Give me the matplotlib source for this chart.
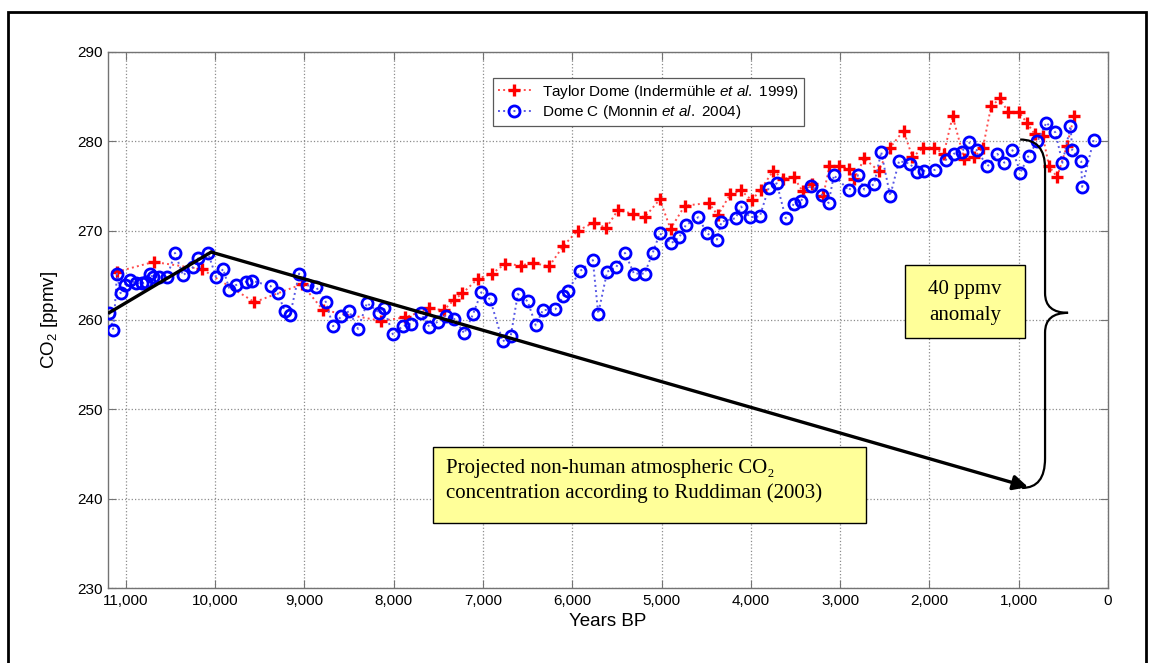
import numpy as np
import matplotlib
matplotlib.use('Agg')
import matplotlib.pyplot as plt
from matplotlib.patches import Rectangle, PathPatch
from matplotlib.path import Path

plt.rcParams['font.family'] = ['Liberation Sans', 'DejaVu Sans']
plt.rcParams['mathtext.fontset'] = 'custom'
plt.rcParams['mathtext.rm'] = 'Liberation Sans'
plt.rcParams['mathtext.it'] = 'Liberation Sans:italic'

# Dome C (Monnin et al. 2004)
domec_age = [11190, 11140, 11100, 11060, 11010, 10950, 10890, 10820, 10770, 10730,
             10700, 10630, 10540, 10450, 10360, 10250, 10190, 10080, 9990, 9910,
             9840, 9770, 9650, 9590, 9380, 9300, 9220, 9160, 9060, 8970,
             8870, 8760, 8680, 8590, 8500, 8400, 8300, 8160, 8110, 8010,
             7900, 7810, 7700, 7600, 7510, 7420, 7320, 7210, 7110, 7020,
             6920, 6780, 6690, 6610, 6500, 6410, 6330, 6190, 6100, 6050,
             5910, 5770, 5710, 5610, 5510, 5410, 5310, 5190, 5100, 5020,
             4890, 4800, 4730, 4590, 4490, 4380, 4330, 4170, 4110, 4010,
             3900, 3800, 3710, 3610, 3520, 3440, 3330, 3200, 3130, 3070,
             2900, 2800, 2730, 2620, 2540, 2440, 2340, 2220, 2140, 2060,
             1940, 1820, 1730, 1640, 1560, 1470, 1350, 1240, 1160, 1070,
             980, 890, 790, 690, 590, 510, 420, 400, 300, 290, 160]
domec_co2 = [260.8, 258.9, 265.2, 263.0, 263.9, 264.5, 264.1, 264.1, 264.3, 265.2,
             264.8, 264.8, 264.8, 267.5, 265.0, 265.9, 266.9, 267.5, 264.8, 265.7,
             263.4, 263.9, 264.3, 264.4, 263.8, 263.0, 261.0, 260.6, 265.2, 263.9,
             263.7, 262.0, 259.3, 260.4, 261.0, 259.0, 261.9, 260.8, 261.3, 258.4,
             259.3, 259.6, 260.8, 259.2, 259.8, 260.5, 260.1, 258.5, 260.7, 263.1,
             262.3, 257.6, 258.2, 262.9, 262.1, 259.4, 261.1, 261.2, 262.7, 263.3,
             265.5, 266.7, 260.7, 265.4, 265.9, 267.5, 265.2, 265.2, 267.5, 269.7,
             268.6, 269.3, 270.6, 271.5, 269.7, 269.0, 271.0, 271.4, 272.7, 271.5,
             271.6, 274.8, 275.3, 271.4, 273.0, 273.3, 275.0, 274.0, 273.1, 276.2,
             274.5, 276.2, 274.6, 275.2, 278.8, 273.9, 277.8, 277.5, 276.6, 276.7,
             276.8, 277.9, 278.6, 278.8, 279.9, 279.0, 277.2, 278.6, 277.6, 279.0,
             276.5, 278.4, 280.0, 282.1, 281.0, 277.6, 281.7, 279.0, 277.8, 274.9, 280.2]

# Taylor Dome (Indermühle et al. 1999)
taylor_age = [11100, 10690, 10150, 9560, 9030, 8790, 8140, 7870, 7600, 7440,
              7330, 7230, 7060, 6900, 6750, 6580, 6440, 6260, 6100, 5940,
              5760, 5620, 5490, 5320, 5190, 5020, 4900, 4740, 4470, 4370,
              4230, 4110, 3990, 3890, 3750, 3640, 3520, 3420, 3310, 3190,
              3120, 3010, 2900, 2840, 2730, 2570, 2440, 2290, 2190, 2070,
              1950, 1840, 1740, 1610, 1500, 1400, 1310, 1210, 1120, 1000,
              910, 820, 730, 660, 570, 460, 380]
taylor_co2 = [265.4, 266.5, 265.7, 262.0, 264.0, 261.1, 259.9, 260.3, 261.3, 261.1,
              262.2, 263.0, 264.6, 265.2, 266.3, 266.1, 266.4, 266.0, 268.3, 270.0,
              270.9, 270.3, 272.3, 271.9, 271.5, 273.5, 270.2, 272.8, 273.1, 271.7,
              274.1, 274.5, 273.4, 274.6, 276.7, 275.8, 276.0, 274.4, 275.2, 273.9,
              277.2, 277.2, 276.9, 275.8, 278.1, 276.7, 279.3, 281.2, 278.2, 279.3,
              279.3, 278.6, 282.8, 278.0, 278.2, 279.3, 283.9, 284.8, 283.3, 283.3,
              282.1, 280.8, 280.6, 277.2, 276.0, 279.5, 282.8]

# Ruddiman (2003) projection: start, early-Holocene peak, end of arrow
rudd_age = [11190, 10045, 895]
rudd_co2 = [260.8, 267.6, 241.3]

xticks = [11000, 10000, 9000, 8000, 7000, 6000, 5000, 4000, 3000, 2000, 1000, 0]
xticklabels = ['11,000', '10,000', '9,000', '8,000', '7,000', '6,000',
               '5,000', '4,000', '3,000', '2,000', '1,000', '0']
yticks = [230, 240, 250, 260, 270, 280, 290]

fig = plt.figure(figsize=(11.52, 6.63), dpi=100)
ax = fig.add_axes([0.0938, 0.1131, 0.868, 0.8085])

ax.plot(taylor_age, taylor_co2, ':', color=[1, 0.3, 0.3], lw=1.4,
        marker='+', ms=8, mew=2.4, mec='red', mfc='red',
        label='Taylor Dome (Indermühle $\\mathit{et\\ al.}$ 1999)', zorder=3)
ax.plot(domec_age, domec_co2, ':', color=[0.35, 0.35, 0.9], lw=1.4,
        marker='o', ms=8, mew=2.0, mec='blue', mfc='none',
        label='Dome C (Monnin $\\mathit{et\\ al.}$ 2004)', zorder=3)

# projected trend with arrow
ax.plot(rudd_age[:2], rudd_co2[:2], '-', color='k', lw=2.4, zorder=5,
        solid_capstyle='round')
ax.annotate('', xy=(rudd_age[2], rudd_co2[2]), xytext=(rudd_age[1], rudd_co2[1]),
            arrowprops=dict(arrowstyle='-|>', color='k', lw=2.4,
                            mutation_scale=22, shrinkA=0, shrinkB=0),
            zorder=5)

# curly brace marking the anomaly
verts = [(984, 280.2), (705, 280.2), (705, 277.0), (705, 263.0),
         (705, 260.8), (447, 260.8), (705, 260.8), (705, 258.6),
         (705, 244.5), (705, 241.2), (962, 241.2)]
codes = [Path.MOVETO, Path.CURVE3, Path.CURVE3, Path.LINETO,
         Path.CURVE3, Path.CURVE3, Path.CURVE3, Path.CURVE3,
         Path.LINETO, Path.CURVE3, Path.CURVE3]
ax.add_patch(PathPatch(Path(verts, codes), fc='none', ec='k', lw=1.6, zorder=5))

ax.set_xlim(11200, 0)
ax.set_ylim(230, 290)
ax.set_xticks(xticks)
ax.set_xticklabels(xticklabels)
ax.set_yticks(yticks)
ax.grid(True, linestyle=':', color='0.55', lw=0.9)
ax.tick_params(direction='in', top=True, right=True, length=6, color='0.45',
               labelsize=11, pad=4)
for s in ax.spines.values():
    s.set_color('0.45')
    s.set_linewidth(1.0)
ax.set_xlabel('Years BP', fontsize=13.5, labelpad=4)
ax.set_ylabel('CO$_2$ [ppmv]', fontsize=13.5, labelpad=12)

leg = ax.legend(loc='upper left', bbox_to_anchor=(0.428, 0.882),
                bbox_transform=fig.transFigure, borderaxespad=0, fontsize=11,
                numpoints=1, handlelength=2.2, handletextpad=0.7,
                labelspacing=0.15, fancybox=False, framealpha=1,
                edgecolor='0.35', borderpad=0.3)
leg.get_frame().set_linewidth(0.9)

# yellow annotation boxes
serif = ['Liberation Serif', 'DejaVu Serif']
fig.patches.append(Rectangle((0.3759, 0.2112), 0.3759, 0.1146, transform=fig.transFigure,
                             fc='#ffff99', ec='k', lw=1.0, zorder=10))
fig.text(0.3872, 0.2745, 'Projected non-human atmospheric CO\u2082\nconcentration according to Ruddiman (2003)',
         family=serif, fontsize=15, ha='left', va='center', linespacing=1.3, zorder=11)
fig.patches.append(Rectangle((0.7856, 0.4902), 0.1042, 0.1101, transform=fig.transFigure,
                             fc='#ffff99', ec='k', lw=1.0, zorder=10))
fig.text(0.8377, 0.5437, '40 ppmv\nanomaly', family=serif, fontsize=15,
         ha='center', va='center', linespacing=1.45, zorder=11)

# outer frame
fig.patches.append(Rectangle((0.0069, -0.02), 0.988, 1.002, transform=fig.transFigure,
                             fc='none', ec='k', lw=2.0))

fig.savefig('out.png', dpi=100)
